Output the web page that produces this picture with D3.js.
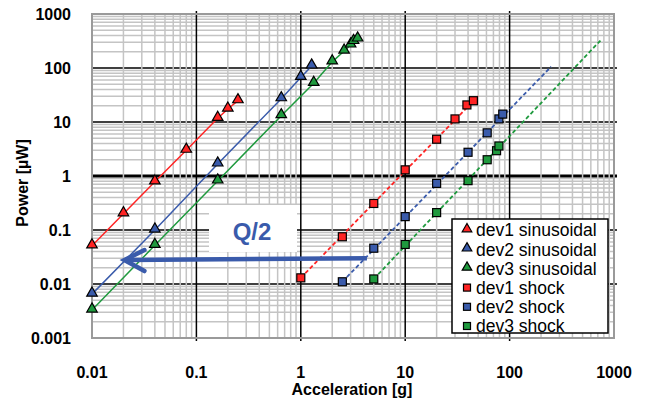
<!DOCTYPE html>
<html>
<head>
<meta charset="utf-8">
<script src="https://cdn.jsdelivr.net/npm/d3@7"></script>
<style>
  body { margin: 0; background: #fff; }
  text { font-family: Arial, "Liberation Sans", Helvetica, sans-serif; }
</style>
</head>
<body>
<svg class="chart" width="646" height="400"></svg>
<script>
// axis ticks
const xTicks = [0.01, 0.1, 1, 10, 100, 1000]
const yTicks = [0.001, 0.01, 0.1, 1, 10, 100, 1000]

// sinusoidal excitation (triangles, solid lines)
const dev1SinAcc = [0.01, 0.02, 0.04, 0.08, 0.16, 0.2, 0.25]
const dev1SinPow = [0.051, 0.2, 0.78, 3.0, 11.7, 17.4, 24.8]
const dev2SinAcc = [0.01, 0.04, 0.16, 0.65, 1.0, 1.27]
const dev2SinPow = [0.0065, 0.1, 1.67, 27, 67, 109]
const dev3SinAcc = [0.01, 0.04, 0.16, 0.65, 1.33, 2.0, 2.6, 3.0, 3.2, 3.5]
const dev3SinPow = [0.0033, 0.052, 0.81, 13.1, 52, 130, 206, 267, 310, 345]

// shock excitation (squares, dashed fit lines)
const dev1ShockAcc = [1, 2.5, 5, 10, 20, 30, 39, 45]
const dev1ShockPow = [0.013, 0.075, 0.31, 1.3, 4.8, 11.4, 20.7, 24.8]
const dev2ShockAcc = [2.5, 5, 10, 20, 40, 61, 79, 86]
const dev2ShockPow = [0.011, 0.046, 0.177, 0.73, 2.75, 6.3, 11.4, 14]
const dev3ShockAcc = [5, 10, 20, 40, 61, 75, 79]
const dev3ShockPow = [0.0124, 0.054, 0.21, 0.82, 2.0, 2.94, 3.6]

// dashed trend lines: [start, end]
const dev1FitAcc = [1, 50], dev1FitPow = [0.013, 30]
const dev2FitAcc = [2.5, 250], dev2FitPow = [0.011, 106]
const dev3FitAcc = [5, 750], dev3FitPow = [0.0124, 330]

// Q/2 arrow, in data units
const arrowAcc = [4.3, 0.02]
const arrowPow = [0.030, 0.0278]

const red = '#ff2424', blue = '#3a5bab', green = '#1f9a3e'

const series = [
  { name: 'dev1 sinusoidal', acc: dev1SinAcc, pow: dev1SinPow, color: red, shape: 'tri' },
  { name: 'dev2 sinusoidal', acc: dev2SinAcc, pow: dev2SinPow, color: blue, shape: 'tri' },
  { name: 'dev3 sinusoidal', acc: dev3SinAcc, pow: dev3SinPow, color: green, shape: 'tri' },
  { name: 'dev1 shock', acc: dev1ShockAcc, pow: dev1ShockPow, color: red, shape: 'sq', fitAcc: dev1FitAcc, fitPow: dev1FitPow },
  { name: 'dev2 shock', acc: dev2ShockAcc, pow: dev2ShockPow, color: blue, shape: 'sq', fitAcc: dev2FitAcc, fitPow: dev2FitPow },
  { name: 'dev3 shock', acc: dev3ShockAcc, pow: dev3ShockPow, color: green, shape: 'sq', fitAcc: dev3FitAcc, fitPow: dev3FitPow }
]

const svg = d3.select('.chart')
const margin = { top: 14, right: 32, bottom: 62, left: 92 }
const width = +svg.attr('width')
const height = +svg.attr('height')
const innerW = width - margin.left - margin.right
const innerH = height - margin.top - margin.bottom

const x = d3.scaleLog().domain([0.01, 1000]).range([0, innerW])
const y = d3.scaleLog().domain([0.001, 1000]).range([innerH, 0])

const g = svg.append('g').attr('transform', `translate(${margin.left},${margin.top})`)

// minor values 2..9 per decade
const minors = (lo, hi) => {
  const out = []
  for (let e = Math.log10(lo); e < Math.log10(hi); e++) {
    for (let k = 2; k <= 9; k++) out.push(k * Math.pow(10, e))
  }
  return out
}

// horizontal minor grid
g.append('g').selectAll('line').data(minors(0.001, 1000))
  .enter().append('line')
  .attr('x1', 0).attr('x2', innerW)
  .attr('y1', d => y(d)).attr('y2', d => y(d))
  .attr('stroke', '#c4c4c4').attr('stroke-width', 1.5)

// horizontal major grid
g.append('g').selectAll('line').data(yTicks.slice(1, -1))
  .enter().append('line')
  .attr('x1', 0).attr('x2', innerW + 3)
  .attr('y1', d => y(d)).attr('y2', d => y(d))
  .attr('stroke', '#000').attr('stroke-width', d => d === 1 ? 3 : 1.5)

// vertical minor grid (drawn over the horizontal majors)
g.append('g').selectAll('line').data(minors(0.01, 1000))
  .enter().append('line')
  .attr('x1', d => x(d)).attr('x2', d => x(d))
  .attr('y1', 0).attr('y2', innerH)
  .attr('stroke', '#c4c4c4').attr('stroke-width', 1.5)

// vertical major grid
g.append('g').selectAll('line').data(xTicks.slice(1, -1))
  .enter().append('line')
  .attr('x1', d => x(d)).attr('x2', d => x(d))
  .attr('y1', -3).attr('y2', innerH + 3)
  .attr('stroke', '#000').attr('stroke-width', 1.5)

// frame
g.append('rect')
  .attr('width', innerW).attr('height', innerH)
  .attr('fill', 'none').attr('stroke', '#9a9a9a').attr('stroke-width', 2)

// tick labels
g.append('g').selectAll('text').data(xTicks)
  .enter().append('text')
  .attr('x', d => x(d)).attr('y', innerH + 40)
  .attr('text-anchor', 'middle')
  .attr('font-size', 16).attr('font-weight', 'bold')
  .text(d => d)

g.append('g').selectAll('text').data(yTicks)
  .enter().append('text')
  .attr('x', -21).attr('y', d => y(d))
  .attr('dy', '0.36em')
  .attr('text-anchor', 'end')
  .attr('font-size', 16).attr('font-weight', 'bold')
  .text(d => d)

// axis titles
svg.append('text')
  .attr('x', 352).attr('y', 395)
  .attr('text-anchor', 'middle')
  .attr('font-size', 16).attr('font-weight', 'bold')
  .text('Acceleration [g]')

svg.append('text')
  .attr('transform', 'translate(28,183) rotate(-90)')
  .attr('text-anchor', 'middle')
  .attr('font-size', 16).attr('font-weight', 'bold')
  .text('Power [µW]')

// lines
const line = d3.line().x(d => x(d[0])).y(d => y(d[1]))

series.forEach(s => {
  if (s.shape === 'tri') {
    g.append('path')
      .datum(d3.zip(s.acc, s.pow))
      .attr('d', line)
      .attr('fill', 'none').attr('stroke', s.color).attr('stroke-width', 1.5)
  } else {
    g.append('path')
      .datum(d3.zip(s.fitAcc, s.fitPow))
      .attr('d', line)
      .attr('fill', 'none').attr('stroke', s.color).attr('stroke-width', 1.8)
      .attr('stroke-dasharray', '4,2.5')
  }
})

const triPath = d3.symbol().type(d3.symbolTriangle).size(48)

const drawMarker = (sel, s) => {
  if (s.shape === 'tri') {
    sel.append('path').attr('d', triPath)
      .attr('transform', 'translate(0,-1)')
      .attr('fill', s.color).attr('stroke', '#000').attr('stroke-width', 1.2)
  } else {
    sel.append('rect')
      .attr('x', -4).attr('y', -4).attr('width', 8).attr('height', 8)
      .attr('fill', s.color).attr('stroke', '#000').attr('stroke-width', 1.2)
  }
}

series.forEach(s => {
  g.append('g').selectAll('g').data(d3.zip(s.acc, s.pow))
    .enter().append('g')
    .attr('transform', d => `translate(${x(d[0])},${y(d[1])})`)
    .each(function () { drawMarker(d3.select(this), s) })
})

// Q/2 annotation
svg.append('rect')
  .attr('x', 209).attr('y', 205).attr('width', 88).attr('height', 47)
  .attr('fill', '#fff')
svg.append('text')
  .attr('x', 252).attr('y', 240)
  .attr('text-anchor', 'middle')
  .attr('font-size', 24).attr('font-weight', 'bold')
  .attr('fill', blue)
  .text('Q/2')

const ax0 = x(arrowAcc[0]), ay0 = y(arrowPow[0])
const ax1 = x(arrowAcc[1]), ay1 = y(arrowPow[1])
g.append('line')
  .attr('x1', ax0).attr('y1', ay0).attr('x2', ax1 + 2).attr('y2', ay1)
  .attr('stroke', blue).attr('stroke-width', 4.5)
g.append('path')
  .attr('d', `M${ax1 + 21},${ay1 - 10} L${ax1 + 1},${ay1} L${ax1 + 21},${ay1 + 11}`)
  .attr('fill', 'none').attr('stroke', blue).attr('stroke-width', 4.5)
  .attr('stroke-linecap', 'round').attr('stroke-linejoin', 'miter')

// legend
const lg = svg.append('g').attr('transform', 'translate(452,219)')
lg.append('clipPath').attr('id', 'legclip')
  .append('rect').attr('width', 156).attr('height', 113)
lg.append('rect')
  .attr('width', 156).attr('height', 114)
  .attr('fill', '#fff')
const rows = lg.append('g').attr('clip-path', 'url(#legclip)')
  .selectAll('g').data(series)
  .enter().append('g')
  .attr('transform', (d, i) => `translate(0,${11 + i * 19.2})`)
rows.append('g').attr('transform', 'translate(15,0)')
  .each(function (s) {
    const m = d3.select(this)
    if (s.shape === 'tri') {
      m.append('path').attr('d', d3.symbol().type(d3.symbolTriangle).size(40))
        .attr('transform', 'translate(0,-1)')
        .attr('fill', s.color).attr('stroke', '#000').attr('stroke-width', 1.2)
    } else {
      m.append('rect').attr('x', -3.5).attr('y', -3.5).attr('width', 7).attr('height', 7)
        .attr('fill', s.color).attr('stroke', '#000').attr('stroke-width', 1.2)
    }
  })
rows.append('text')
  .attr('x', 24).attr('dy', '0.36em')
  .attr('font-size', 17.5)
  .text(d => d.name)
lg.append('rect')
  .attr('width', 156).attr('height', 114)
  .attr('fill', 'none').attr('stroke', '#000').attr('stroke-width', 1.5)
</script>
</body>
</html>
